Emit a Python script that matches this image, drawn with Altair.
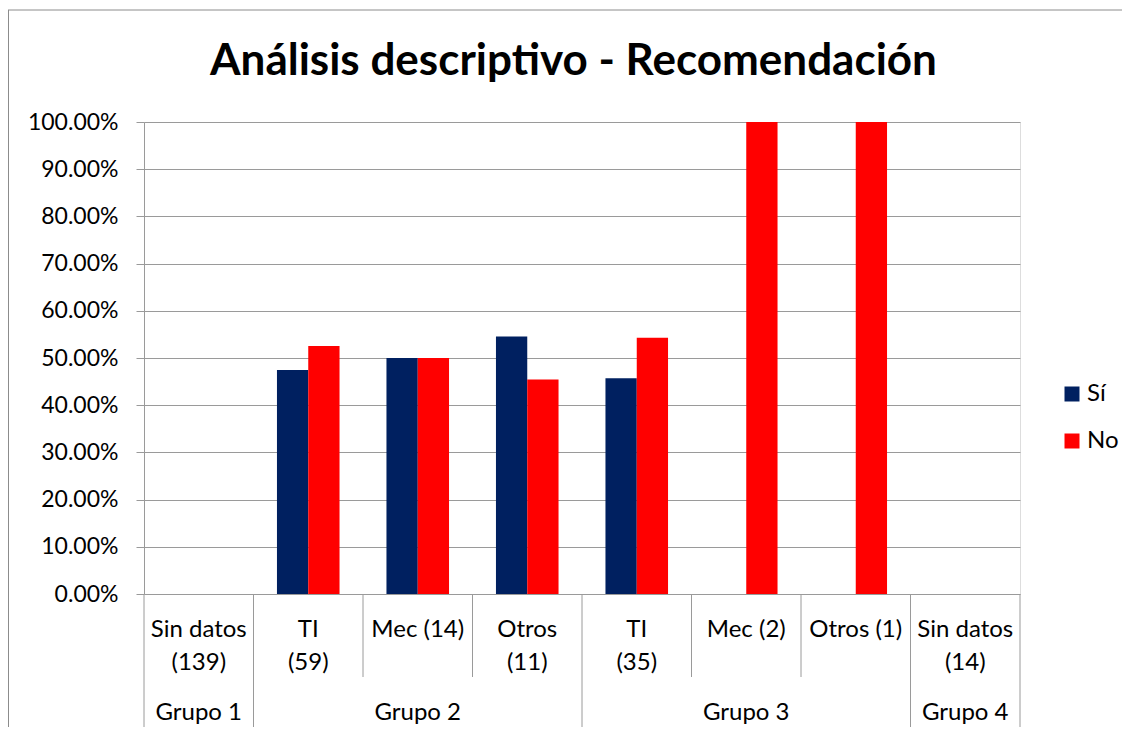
import altair as alt
import pandas as pd

# ---- data ----
categories = ["Sin datos (139)", "TI (59)", "Mec (14)", "Otros (11)",
              "TI (35)", "Mec (2)", "Otros (1)", "Sin datos (14)"]
label_line1 = ["Sin datos", "TI", "Mec (14)", "Otros", "TI", "Mec (2)", "Otros (1)", "Sin datos"]
label_line2 = ["(139)", "(59)", "", "(11)", "(35)", "", "", "(14)"]
groups = ["Grupo 1", "Grupo 2", "Grupo 2", "Grupo 2", "Grupo 3", "Grupo 3", "Grupo 3", "Grupo 4"]
group_names = ["Grupo 1", "Grupo 2", "Grupo 3", "Grupo 4"]
group_center_cat = ["Sin datos (139)", "Mec (14)", "Mec (2)", "Sin datos (14)"]
group_start_cat = ["Sin datos (139)", "TI (59)", "TI (35)", "Sin datos (14)"]
series = ["Sí", "No"]
si_values = [None, 0.4746, 0.50, 0.5455, 0.4571, 0.0, 0.0, None]
no_values = [None, 0.5254, 0.50, 0.4545, 0.5429, 1.0, 1.0, None]
colors = ["#002060", "#FF0000"]
title_text = "Análisis descriptivo - Recomendación"

rows = []
for c, s_v, n_v in zip(categories, si_values, no_values):
    if s_v is not None:
        rows.append({"cat": c, "serie": "Sí", "val": s_v})
    if n_v is not None:
        rows.append({"cat": c, "serie": "No", "val": n_v})
bars_df = pd.DataFrame(rows)

labels_df = pd.DataFrame({"cat": categories, "l1": label_line1, "l2": label_line2, "grp": groups})
grp_df = pd.DataFrame({"cat": group_center_cat, "grp": group_names})
grp_start_df = pd.DataFrame({"cat": group_start_cat})
inner_df = pd.DataFrame({"cat": [c for c, g, prev in zip(categories, groups, [None] + groups[:-1]) if g == prev]})
last_df = pd.DataFrame({"cat": [categories[-1]]})
title_df = pd.DataFrame({"t": [title_text]})

W, H = 876, 472
FONT = "Lato"
GRID = "#9a9a9a"
FRAME = "#8c8c8c"
LBL = 24

xscale = alt.Scale(domain=categories, paddingInner=0, paddingOuter=0)

bars = alt.Chart(bars_df).mark_bar().encode(
    x=alt.X("cat:N", scale=xscale, axis=None, title=None),
    xOffset=alt.XOffset("serie:N", scale=alt.Scale(domain=series, paddingInner=0, paddingOuter=0.75)),
    y=alt.Y("val:Q", scale=alt.Scale(domain=[0, 1]),
            axis=alt.Axis(format=".2%", values=[i / 10 for i in range(11)], title=None,
                          grid=True, gridColor=GRID, domainColor=GRID, tickColor=GRID,
                          tickSize=8, labelPadding=18, labelFontSize=23, labelFont=FONT,
                          labelColor="#000000", labelBaseline="middle")),
    color=alt.Color("serie:N", scale=alt.Scale(domain=series, range=colors),
                    legend=alt.Legend(title=None, orient="none", legendX=916, legendY=260,
                                      symbolType="square", symbolSize=225, symbolStrokeWidth=0,
                                      labelFontSize=LBL, labelFont=FONT, labelColor="#000000",
                                      rowPadding=23, labelOffset=3, padding=0)),
)

line1 = alt.Chart(labels_df).mark_text(fontSize=LBL, font=FONT, baseline="alphabetic", color="#000000").encode(
    x=alt.X("cat:N", scale=xscale, axis=None), y=alt.value(515), text="l1:N")
line2 = alt.Chart(labels_df).mark_text(fontSize=LBL, font=FONT, baseline="alphabetic", color="#000000").encode(
    x=alt.X("cat:N", scale=xscale, axis=None), y=alt.value(548), text="l2:N")
grp_text = alt.Chart(grp_df).mark_text(fontSize=LBL, font=FONT, baseline="alphabetic", color="#000000").encode(
    x=alt.X("cat:N", scale=xscale, axis=None), y=alt.value(598), text="grp:N")

inner_rules = alt.Chart(inner_df).mark_rule(color=GRID, strokeWidth=1).encode(
    x=alt.X("cat:N", scale=xscale, axis=None, bandPosition=0), y=alt.value(472), y2=alt.value(555))
grp_rules = alt.Chart(grp_start_df).mark_rule(color=GRID, strokeWidth=1).encode(
    x=alt.X("cat:N", scale=xscale, axis=None, bandPosition=0), y=alt.value(472), y2=alt.value(640))
last_rule = alt.Chart(last_df).mark_rule(color=GRID, strokeWidth=1).encode(
    x=alt.X("cat:N", scale=xscale, axis=None, bandPosition=1), y=alt.value(472), y2=alt.value(640))

frame_left = alt.Chart(title_df).mark_rule(color=FRAME, strokeWidth=1).encode(
    x=alt.value(-135.5), y=alt.value(-112), y2=alt.value(640))
frame_top = alt.Chart(title_df).mark_rule(color=FRAME, strokeWidth=1).encode(
    x=alt.value(-136), x2=alt.value(1100), y=alt.value(-112))

title = alt.Chart(title_df).mark_text(fontSize=44, font=FONT, fontWeight="bold", baseline="alphabetic",
                                      align="center", color="#000000").encode(
    x=alt.value(429.5), y=alt.value(-47), text="t:N")

chart = alt.layer(frame_left, frame_top, bars, inner_rules, grp_rules, last_rule,
                  line1, line2, grp_text, title).properties(
    width=W, height=H,
    autosize=alt.AutoSizeParams(type="none"),
    padding={"left": 136, "top": 114, "right": 102, "bottom": 133},
).configure_view(stroke=None).configure(background="#ffffff")

chart.save("out.html", embed_options={"renderer": "svg", "actions": False})
